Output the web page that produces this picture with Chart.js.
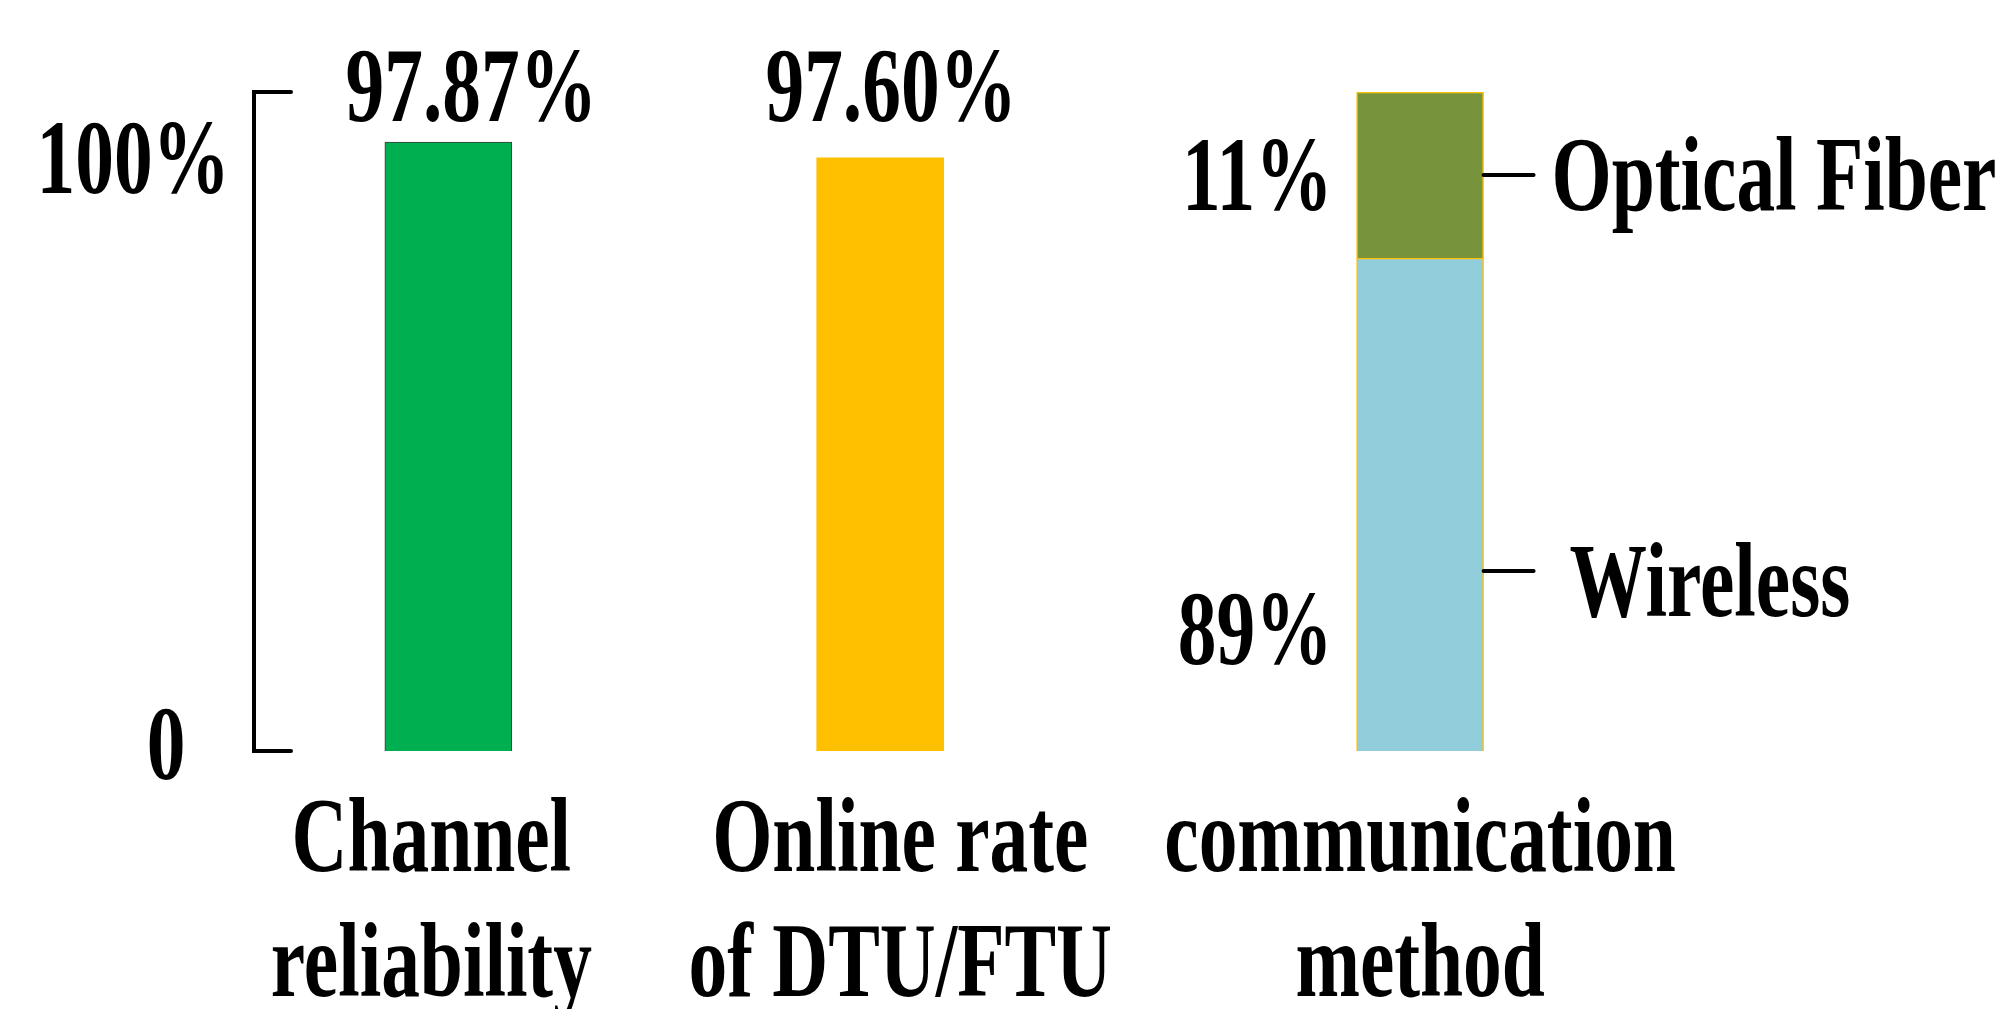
<!DOCTYPE html>
<html>
<head>
<meta charset="utf-8">
<script src="https://cdn.jsdelivr.net/npm/chart.js@4.4.0/dist/chart.umd.min.js"></script>
<style>
  html, body { margin: 0; padding: 0; background: #ffffff; }
  #wrap { width: 2012px; height: 1009px; position: relative; }
</style>
</head>
<body>
<div id="wrap"><canvas id="c"></canvas></div>
<script>
// ---- data ----
const categories = [['Channel', 'reliability'], ['Online rate', 'of DTU/FTU'], ['communication', 'method']];
const categoryPos = [1, 2, 3.25];
const valueLabels = ['97.87%', '97.60%'];
const barHeights = [92.4, 90.0];          // drawn bar heights (100 = top of axis bracket)
const methodNames = ['Wireless', 'Optical Fiber'];
const methodHeights = [74.8, 25.2];       // drawn segment heights of the stacked bar
const methodLabels = ['89%', '11%'];
const yTickLabels = ['0', '100%'];
const yTickAt = [1, 90];

// ---- styles ----
const FONT = "bold 106px 'Liberation Serif', 'Times New Roman', serif";
const SX = 0.73;
const colors = { green: '#00B050', gold: '#FFC000', blue: '#92CDDC', olive: '#77933C' };

function txt(ctx, s, x, y, align) {
  ctx.save();
  ctx.translate(x, y);
  ctx.scale(SX, 1);
  ctx.textAlign = align || 'center';
  ctx.textBaseline = 'alphabetic';
  ctx.fillText(s, 0, 0);
  ctx.restore();
}

const decor = {
  id: 'decor',
  afterDatasetsDraw(chart) {
    const ctx = chart.ctx, xs = chart.scales.x, ys = chart.scales.y, ca = chart.chartArea;
    ctx.save();
    ctx.fillStyle = '#000';
    ctx.strokeStyle = '#000';
    ctx.font = FONT;

    // axis bracket
    ctx.lineWidth = 4;
    ctx.lineCap = 'round';
    ctx.lineJoin = 'miter';
    const ax = ca.left, top = ys.getPixelForValue(100), bot = ys.getPixelForValue(0);
    ctx.beginPath();
    ctx.moveTo(ax + 37, top);
    ctx.lineTo(ax, top);
    ctx.lineTo(ax, bot);
    ctx.lineTo(ax + 37, bot);
    ctx.stroke();

    // y labels
    txt(ctx, yTickLabels[0], ax - 88, ys.getPixelForValue(yTickAt[0]) + 35, 'center');
    txt(ctx, yTickLabels[1], ax - 24, ys.getPixelForValue(yTickAt[1]) + 35, 'right');

    // value labels above first two bars
    const valDx = [23, 11];
    valueLabels.forEach((s, i) => {
      txt(ctx, s, xs.getPixelForValue(categoryPos[i]) + valDx[i], ca.top + 29, 'center');
    });

    // category labels
    const catDx = [-17, 20, 0];
    categories.forEach((lines, i) => {
      const cx = xs.getPixelForValue(categoryPos[i]) + catDx[i];
      lines.forEach((l, j) => txt(ctx, l, cx, bot + 120 + j * 125, 'center'));
    });

    // stacked bar annotations
    const meta = chart.getDatasetMeta(2).data[0];
    const right = meta.x + meta.width / 2;
    const left = meta.x - meta.width / 2;
    // optical fiber (segment center)
    const optMid = ys.getPixelForValue(methodHeights[0] + methodHeights[1] / 2);
    // wireless (positions as pictured)
    const wTick = ys.getPixelForValue(27.3);
    ctx.lineWidth = 4;
    ctx.lineCap = 'round';
    [optMid, wTick].forEach(y => {
      ctx.beginPath();
      ctx.moveTo(right, y);
      ctx.lineTo(right + 50, y);
      ctx.stroke();
    });
    txt(ctx, methodNames[1], right + 68, optMid + 35, 'left');
    txt(ctx, methodNames[0], right + 86, wTick + 45, 'left');
    txt(ctx, methodLabels[1], left - 24, optMid + 35, 'right');
    txt(ctx, methodLabels[0], left - 24, ys.getPixelForValue(18.5) + 35, 'right');

    ctx.restore();
  }
};

new Chart(document.getElementById('c'), {
  type: 'bar',
  data: {
    datasets: [
      { label: categories[0].join(' '), data: [{ x: categoryPos[0], y: barHeights[0] }],
        backgroundColor: colors.green, borderColor: '#3a3a3a', borderWidth: 1 },
      { label: categories[1].join(' '), data: [{ x: categoryPos[1], y: barHeights[1] }],
        backgroundColor: colors.gold, borderWidth: 0 },
      { label: methodNames[0], data: [{ x: categoryPos[2], y: methodHeights[0] }],
        backgroundColor: colors.blue, borderColor: colors.gold, borderWidth: 1.5 },
      { label: methodNames[1], data: [{ x: categoryPos[2], y: methodHeights[1] }],
        backgroundColor: colors.olive, borderColor: colors.gold, borderWidth: 1.5 }
    ]
  },
  options: {
    responsive: true,
    maintainAspectRatio: false,
    animation: false,
    layout: { padding: { left: 254, top: 92, right: 268, bottom: 258 } },
    datasets: { bar: { barThickness: 127 } },
    scales: {
      x: { type: 'linear', min: 0.55, max: 4, offset: false, stacked: true, display: false },
      y: { min: 0, max: 100, stacked: true, display: false }
    },
    plugins: { legend: { display: false }, tooltip: { enabled: false } }
  },
  plugins: [decor]
});
</script>
</body>
</html>
